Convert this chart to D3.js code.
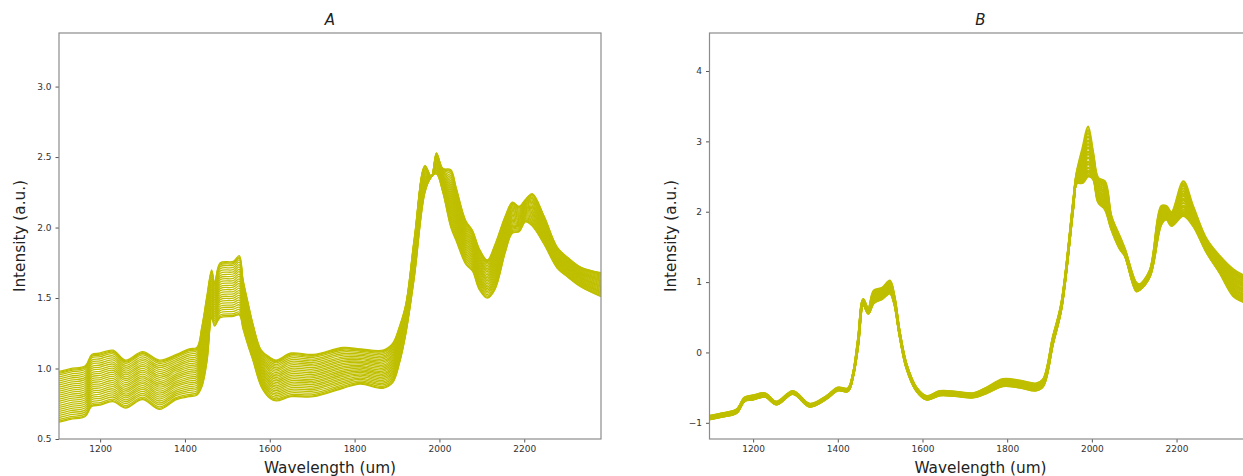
<!DOCTYPE html>
<html>
<head>
<meta charset="utf-8">
<script src="https://cdn.jsdelivr.net/npm/d3@7"></script>
<style>
  body { margin: 0; background: #fff; }
  text { font-family: "DejaVu Sans", sans-serif; }
</style>
</head>
<body>
<div id="chart"></div>
<script>
// panel A: wavelengths and the top / bottom spectra of the set
var wlA = [1103, 1130, 1165, 1180, 1200, 1230, 1260, 1300, 1340, 1380, 1410, 1428, 1440, 1452, 1463, 1470, 1483,
           1514, 1528, 1537, 1550, 1560, 1580, 1600, 1615, 1650, 1703, 1773, 1813, 1867, 1890, 1906, 1921, 1941,
           1966, 1981, 1993, 2008, 2027, 2039, 2062, 2078, 2094, 2113, 2131, 2155, 2172, 2188, 2203, 2219, 2247,
           2278, 2302, 2333, 2381];
var topA = [0.98, 1.00, 1.02, 1.10, 1.11, 1.13, 1.06, 1.12, 1.06, 1.10, 1.14, 1.15, 1.30, 1.52, 1.70, 1.61, 1.75,
            1.76, 1.80, 1.63, 1.45, 1.32, 1.13, 1.08, 1.06, 1.11, 1.10, 1.15, 1.14, 1.13, 1.18, 1.30, 1.46, 1.93,
            2.44, 2.36, 2.53, 2.42, 2.41, 2.29, 2.05, 1.98, 1.85, 1.77, 1.88, 2.08, 2.18, 2.15, 2.20, 2.24, 2.08,
            1.86, 1.79, 1.72, 1.68];
var bottomA = [0.62, 0.64, 0.66, 0.73, 0.74, 0.765, 0.72, 0.78, 0.71, 0.78, 0.80, 0.81, 0.87, 1.05, 1.36, 1.30, 1.36,
               1.37, 1.38, 1.28, 1.15, 1.06, 0.87, 0.79, 0.77, 0.80, 0.80, 0.86, 0.89, 0.86, 0.90, 1.04, 1.25, 1.65,
               2.25, 2.36, 2.38, 2.25, 2.00, 1.91, 1.74, 1.69, 1.56, 1.50, 1.56, 1.82, 1.96, 1.97, 2.04, 2.01, 1.88,
               1.71, 1.65, 1.58, 1.51];
// position of each sample between bottom (0) and top (1)
var weightsA = [0, 0.02, 0.05, 0.09, 0.13, 0.17, 0.21, 0.25, 0.29, 0.33, 0.37, 0.41, 0.45, 0.49, 0.53, 0.57,
                0.61, 0.65, 0.69, 0.73, 0.77, 0.81, 0.85, 0.89, 0.93, 0.96, 0.98, 1];

// panel B
var wlB = [1097, 1130, 1161, 1180, 1200, 1228, 1255, 1294, 1334, 1373, 1400, 1424, 1436, 1448, 1460, 1472, 1485,
           1505, 1523, 1533, 1546, 1562, 1586, 1610, 1641, 1680, 1719, 1751, 1790, 1830, 1869, 1885, 1908, 1928,
           1956, 1964, 1979, 1991, 2003, 2015, 2031, 2046, 2066, 2078, 2105, 2113, 2137, 2164, 2176, 2188, 2216,
           2239, 2271, 2302, 2334, 2353, 2377];
var topB = [-0.90, -0.86, -0.81, -0.64, -0.61, -0.58, -0.70, -0.55, -0.73, -0.62, -0.50, -0.51, -0.30, 0.20, 0.76,
            0.62, 0.88, 0.92, 1.02, 0.82, 0.30, -0.16, -0.50, -0.62, -0.55, -0.56, -0.58, -0.50, -0.38, -0.40, -0.44,
            -0.38, 0.22, 0.70, 2.15, 2.55, 2.93, 3.21, 2.84, 2.48, 2.43, 1.94, 1.65, 1.47, 0.99, 0.97, 1.17, 2.08,
            2.08, 1.99, 2.43, 2.08, 1.61, 1.37, 1.18, 1.11, 1.05];
var bottomB = [-0.95, -0.91, -0.86, -0.69, -0.67, -0.63, -0.74, -0.59, -0.77, -0.66, -0.54, -0.55, -0.34, 0.10, 0.68,
               0.55, 0.70, 0.76, 0.84, 0.70, 0.24, -0.22, -0.55, -0.67, -0.61, -0.62, -0.64, -0.58, -0.48, -0.50, -0.54,
               -0.48, 0.12, 0.62, 2.05, 2.40, 2.41, 2.50, 2.46, 2.13, 2.03, 1.75, 1.47, 1.37, 0.87, 0.89, 1.08, 1.82,
               1.89, 1.80, 1.94, 1.80, 1.42, 1.13, 0.80, 0.73, 0.68];
var weightsB = [0, 0.03, 0.08, 0.12, 0.18, 0.25, 0.3, 0.38, 0.45, 0.5, 0.58, 0.65, 0.72, 0.8, 0.87, 0.93, 1];

var xTicks = [1200, 1400, 1600, 1800, 2000, 2200];
var yTicksA = [0.5, 1.0, 1.5, 2.0, 2.5, 3.0];
var yTicksB = [-1, 0, 1, 2, 3, 4];

function init(){

    var w = 1243;
    var h = 476;

    var svg = d3.select("#chart")
                .append("svg")
                .attr("width", w)
                .attr("height", h);

    var panels = [
        {id: "A", left: 59, right: 601, xDom: [1103, 2381], yDom: [0.5, 3.38], wl: wlA, top: topA, bottom: bottomA,
         weights: weightsA, yTicks: yTicksA, fmt: d3.format(".1f"), lw: 1.3},
        {id: "B", left: 709.5, right: 1251.5, xDom: [1097, 2377], yDom: [-1.23, 4.54], wl: wlB, top: topB, bottom: bottomB,
         weights: weightsB, yTicks: yTicksB, fmt: d3.format("d"), lw: 2.2}
    ];
    var top = 33, bottom = 439;

    panels.forEach(function(p){
        var xScale = d3.scaleLinear().domain(p.xDom).range([p.left, p.right]);
        var yScale = d3.scaleLinear().domain(p.yDom).range([bottom, top]);

        var g = svg.append("g");

        g.append("clipPath").attr("id", "clip" + p.id)
            .append("rect")
            .attr("x", p.left).attr("y", top)
            .attr("width", p.right - p.left).attr("height", bottom - top);

        // every spectrum sits between the bottom and top curves
        var series = p.weights.map(function(t){
            return p.wl.map(function(x, i){
                return [x, p.bottom[i] + t * (p.top[i] - p.bottom[i])];
            });
        });

        var line = d3.line()
                    .x(function(d){ return xScale(d[0]); })
                    .y(function(d){ return yScale(d[1]); })
                    .curve(d3.curveCatmullRom.alpha(0.5));

        g.append("g")
            .attr("clip-path", "url(#clip" + p.id + ")")
            .selectAll("path")
            .data(series)
            .enter()
            .append("path")
            .attr("d", line)
            .attr("fill", "none")
            .attr("stroke", "#bfbf00")
            .attr("stroke-width", p.lw);

        var xAxis = d3.axisBottom(xScale).tickValues(xTicks).tickFormat(d3.format("d")).tickSize(3.5).tickPadding(3);
        var yAxis = d3.axisLeft(yScale).tickValues(p.yTicks).tickFormat(p.fmt).tickSize(3.5).tickPadding(4);

        var gx = g.append("g").attr("transform", "translate(0," + bottom + ")").call(xAxis);
        var gy = g.append("g").attr("transform", "translate(" + p.left + ",0)").call(yAxis);
        [gx, gy].forEach(function(a){
            a.select(".domain").remove();
            a.selectAll("line").attr("stroke", "#555");
            a.selectAll("text").attr("fill", "#333").style("font-size", "9px");
        });

        // frame
        g.append("rect")
            .attr("x", p.left).attr("y", top)
            .attr("width", p.right - p.left).attr("height", bottom - top)
            .attr("fill", "none")
            .attr("stroke", "#8c8c8c")
            .attr("stroke-width", 1.2);

        var cx = (p.left + p.right) / 2;
        g.append("text")
            .attr("x", cx).attr("y", 25)
            .attr("text-anchor", "middle")
            .style("font-size", "15px")
            .style("font-style", "italic")
            .attr("fill", "#222")
            .text(p.id);

        g.append("text")
            .attr("x", cx).attr("y", 473)
            .attr("text-anchor", "middle")
            .style("font-size", "15.3px")
            .attr("fill", "#222")
            .text("Wavelength (um)");

        g.append("text")
            .attr("transform", "translate(" + (p.left - 34) + "," + ((top + bottom) / 2) + ") rotate(-90)")
            .attr("text-anchor", "middle")
            .style("font-size", "15.3px")
            .attr("fill", "#222")
            .text("Intensity (a.u.)");
    });
}
window.onload = init;
</script>
</body>
</html>
